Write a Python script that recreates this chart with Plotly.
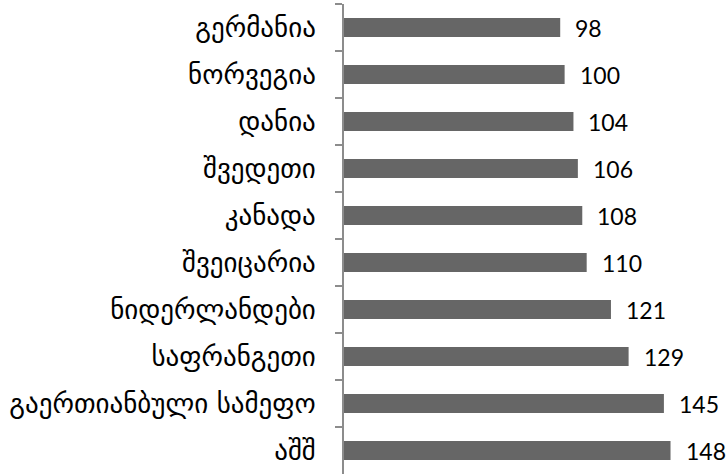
import plotly.graph_objects as go

# Countries, top to bottom, and their values
countries = [
    "გერმანია",
    "ნორვეგია",
    "დანია",
    "შვედეთი",
    "კანადა",
    "შვეიცარია",
    "ნიდერლანდები",
    "საფრანგეთი",
    "გაერთიანბული სამეფო",
    "აშშ",
]
values = [98, 100, 104, 106, 108, 110, 121, 129, 145, 148]

bar_color = "#666666"
axis_color = "#8c8c8c"

fig = go.Figure()
fig.add_trace(
    go.Bar(
        x=values,
        y=countries,
        orientation="h",
        marker=dict(color=bar_color, line=dict(width=0)),
        hoverinfo="x+y",
    )
)

# Value labels just past the end of each bar
for c, v in zip(countries, values):
    fig.add_annotation(
        x=v, y=c, text=str(v), showarrow=False,
        xanchor="left", yanchor="middle", xshift=13,
        font=dict(family="Lato", size=23, color="#000000"),
    )

fig.update_layout(
    width=728,
    height=475,
    margin=dict(l=344, r=31, t=4, b=1),
    paper_bgcolor="white",
    plot_bgcolor="white",
    bargap=0.6,
    showlegend=False,
    xaxis=dict(
        range=[0, 160],
        visible=False,
        showgrid=False,
        zeroline=False,
    ),
    yaxis=dict(
        categoryorder="array",
        categoryarray=countries,
        autorange="reversed",
        showgrid=False,
        zeroline=False,
        showline=True,
        linecolor=axis_color,
        linewidth=1.5,
        ticks="outside",
        tickson="boundaries",
        ticklen=7,
        tickcolor=axis_color,
        tickwidth=1.5,
        ticklabelstandoff=21,
        tickfont=dict(family="DejaVu Sans", size=27, color="#000000"),
    ),
)

fig.write_html("out.html")
